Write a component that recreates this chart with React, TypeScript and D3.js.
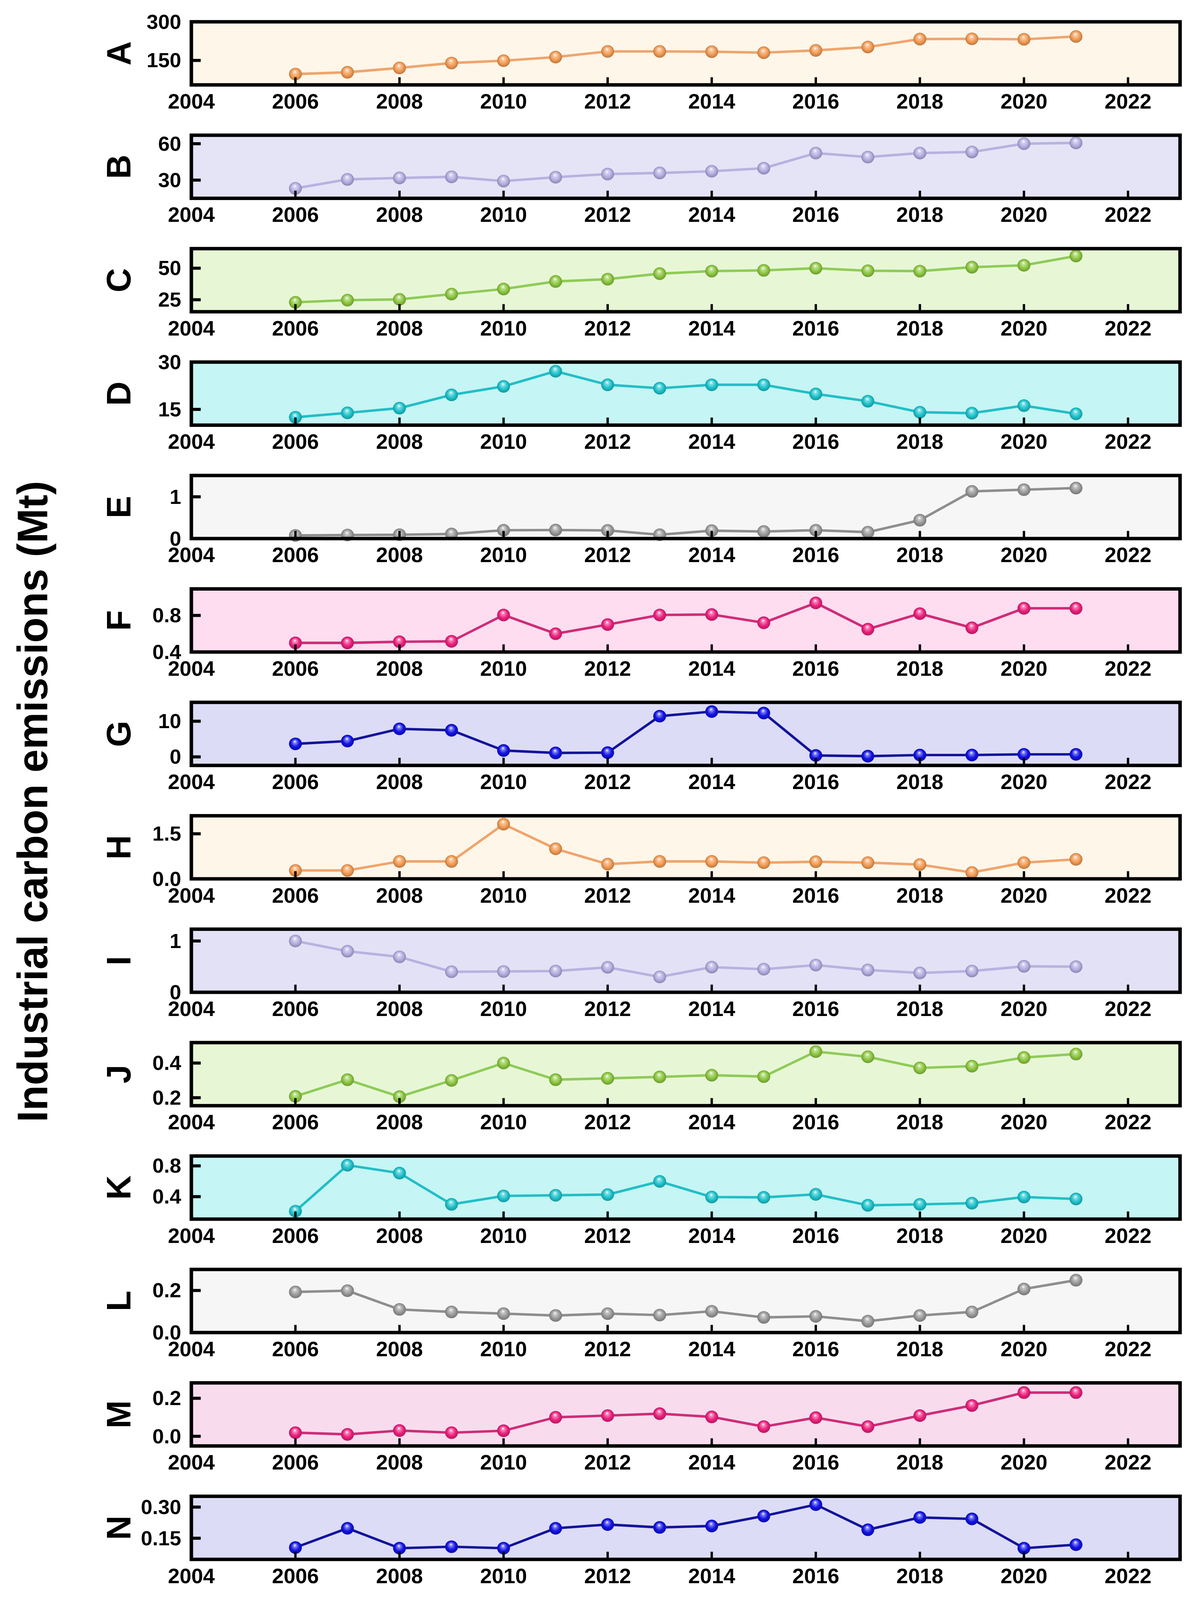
import * as d3 from 'd3';

// years on the x axis and tick labels
const YEARS = [2006, 2007, 2008, 2009, 2010, 2011, 2012, 2013, 2014, 2015, 2016, 2017, 2018, 2019, 2020, 2021];
const X_TICKS = [2004, 2006, 2008, 2010, 2012, 2014, 2016, 2018, 2020, 2022];
const PANEL_LABELS = ['A', 'B', 'C', 'D', 'E', 'F', 'G', 'H', 'I', 'J', 'K', 'L', 'M', 'N'];

// emissions per panel (Mt)
const SERIES_A = [97, 104, 121, 140, 149, 163, 185, 185, 184, 180, 189, 202, 233, 234, 232, 243];
const SERIES_B = [23.2, 30.6, 31.8, 32.7, 29.2, 32.4, 35, 35.9, 37.3, 39.8, 52.3, 49, 52.3, 53.2, 60, 60.7];
const SERIES_C = [23, 24.7, 25.3, 29.5, 33.5, 39.5, 41.3, 45.7, 47.7, 48.3, 50, 48, 47.7, 50.8, 52.3, 59.7];
const SERIES_D = [12.5, 13.9, 15.4, 19.6, 22.3, 27.1, 22.8, 21.7, 22.8, 22.8, 19.9, 17.6, 14.1, 13.8, 16.2, 13.6];
const SERIES_E = [0.075, 0.086, 0.092, 0.11, 0.2, 0.205, 0.195, 0.092, 0.19, 0.17, 0.2, 0.154, 0.44, 1.13, 1.17, 1.21];
const SERIES_F = [0.5, 0.5, 0.512, 0.517, 0.805, 0.6, 0.7, 0.805, 0.81, 0.72, 0.937, 0.65, 0.82, 0.665, 0.878, 0.878];
const SERIES_G = [3.65, 4.44, 7.86, 7.46, 1.79, 1.11, 1.19, 11.43, 12.7, 12.3, 0.4, 0.2, 0.52, 0.52, 0.71, 0.71];
const SERIES_H = [0.28, 0.28, 0.58, 0.58, 1.82, 1.0, 0.49, 0.58, 0.58, 0.54, 0.57, 0.54, 0.475, 0.21, 0.54, 0.65];
const SERIES_I = [1.0, 0.8, 0.69, 0.4, 0.405, 0.414, 0.486, 0.3, 0.49, 0.45, 0.53, 0.434, 0.377, 0.414, 0.506, 0.5];
const SERIES_J = [0.208, 0.304, 0.206, 0.3, 0.4, 0.304, 0.312, 0.32, 0.33, 0.322, 0.466, 0.436, 0.372, 0.382, 0.432, 0.452];
const SERIES_K = [0.211, 0.809, 0.706, 0.3, 0.409, 0.418, 0.427, 0.598, 0.395, 0.391, 0.43, 0.288, 0.3, 0.315, 0.395, 0.37];
const SERIES_L = [0.193, 0.199, 0.11, 0.098, 0.09, 0.081, 0.09, 0.083, 0.101, 0.072, 0.077, 0.054, 0.081, 0.098, 0.207, 0.249];
const SERIES_M = [0.019, 0.01, 0.03, 0.019, 0.029, 0.1, 0.109, 0.119, 0.102, 0.051, 0.098, 0.051, 0.109, 0.162, 0.23, 0.23];
const SERIES_N = [0.105, 0.198, 0.102, 0.109, 0.102, 0.198, 0.216, 0.202, 0.209, 0.257, 0.312, 0.191, 0.25, 0.243, 0.102, 0.119];

const SERIES = [
  SERIES_A, SERIES_B, SERIES_C, SERIES_D, SERIES_E, SERIES_F, SERIES_G,
  SERIES_H, SERIES_I, SERIES_J, SERIES_K, SERIES_L, SERIES_M, SERIES_N,
];

// y axis range and ticks per panel
const Y_DOMAINS = [
  [55, 300], [15, 67], [15.5, 65.5], [10, 30], [0, 1.51], [0.4, 1.09], [-2.4, 15.3],
  [0, 2.1], [0, 1.23], [0.154, 0.518], [0.108, 0.928], [0, 0.3], [-0.051, 0.281], [0.048, 0.352],
];
const Y_TICKS = [
  [150, 300], [30, 60], [25, 50], [15, 30], [0, 1], [0.4, 0.8], [0, 10],
  [0, 1.5], [0, 1], [0.2, 0.4], [0.4, 0.8], [0, 0.2], [0, 0.2], [0.15, 0.3],
];
const Y_FORMATS = ['d', 'd', 'd', 'd', 'd', '.1f', 'd', '.1f', 'd', '.1f', '.1f', '.1f', '.1f', '.2f'];

const THEMES = [
  { line: '#F0A46C', dot: '#F39A52' },
  { line: '#B6B2DF', dot: '#B2ADE0' },
  { line: '#8FCB57', dot: '#8CC63F' },
  { line: '#22BEC6', dot: '#1CC2CB' },
  { line: '#8E8E8E', dot: '#999999' },
  { line: '#CF2C78', dot: '#EC1F7C' },
  { line: '#13139A', dot: '#1111E4' },
];
const PANEL_BG = [
  '#FEF6E9', '#E5E3F6', '#E7F7D6', '#C5F5F5', '#F6F6F6', '#FDDDEF', '#DCDCF7',
  '#FEF6E9', '#E3E1F6', '#E7F7D6', '#C5F5F5', '#F6F6F6', '#F8DCEE', '#DCDCF7',
];

const W = 3050;
const H = 4184;
const LEFT = 490;
const RIGHT = 3022;
const TOP0 = 57;
const PITCH = 296.6;
const PANEL_H = 165;
const FONT = '"Liberation Sans", Arial, Helvetica, sans-serif';

const x = d3.scaleLinear().domain([2004, 2023]).range([LEFT, RIGHT]);

function Panel({ i }: { i: number }) {
  const top = TOP0 + i * PITCH;
  const bottom = top + PANEL_H;
  const theme = THEMES[i % 7];
  const y = d3.scaleLinear().domain(Y_DOMAINS[i]).range([bottom, top]);
  const fmt = d3.format(Y_FORMATS[i]);
  const values = SERIES[i];
  const line = d3
    .line<number>()
    .x((_, k) => x(YEARS[k]))
    .y((v) => y(v));
  const gradId = `ball-${i}`;
  const dark = d3.color(theme.dot)!.darker(0.9).formatHex();
  const light = d3.interpolateRgb(theme.dot, '#ffffff')(0.45);

  return (
    <g>
      <defs>
        <radialGradient id={gradId} cx="50%" cy="50%" r="55%" fx="45%" fy="30%">
          <stop offset="0%" stopColor="#ffffff" />
          <stop offset="22%" stopColor={light} />
          <stop offset="60%" stopColor={theme.dot} />
          <stop offset="100%" stopColor={dark} />
        </radialGradient>
      </defs>
      <rect x={LEFT} y={top} width={RIGHT - LEFT} height={PANEL_H} fill={PANEL_BG[i]} />
      <path d={line(values) ?? ''} fill="none" stroke={theme.line} strokeWidth={6.5} strokeLinejoin="round" />
      {values.map((v, k) => (
        <circle key={k} cx={x(YEARS[k])} cy={y(v)} r={16.5} fill={`url(#${gradId})`} />
      ))}
      {/* inward ticks */}
      {X_TICKS.slice(1).map((t) => (
        <line key={t} x1={x(t)} x2={x(t)} y1={bottom} y2={bottom - 20} stroke="#000" strokeWidth={6} />
      ))}
      {Y_TICKS[i].map((t) => (
        <line key={t} x1={LEFT} x2={LEFT + 24} y1={y(t)} y2={y(t)} stroke="#000" strokeWidth={8} />
      ))}
      <rect x={LEFT} y={top} width={RIGHT - LEFT} height={PANEL_H} fill="none" stroke="#000" strokeWidth={9} />
      {/* tick labels */}
      {X_TICKS.map((t) => (
        <text key={t} x={x(t)} y={bottom + 62} textAnchor="middle" fontSize={54} fontWeight="bold" fontFamily={FONT}>
          {t}
        </text>
      ))}
      {Y_TICKS[i].map((t) => (
        <text
          key={t}
          x={464}
          y={y(t)}
          textAnchor="end"
          dominantBaseline="central"
          fontSize={53}
          fontWeight="bold"
          fontFamily={FONT}
        >
          {fmt(t)}
        </text>
      ))}
      <text
        transform={`translate(334,${(top + bottom) / 2}) rotate(-90)`}
        textAnchor="middle"
        fontSize={88}
        fontWeight="bold"
        fontFamily={FONT}
      >
        {PANEL_LABELS[i]}
      </text>
    </g>
  );
}

export default function App() {
  // fit the figure to the visible height so the bottom axis labels stay in view
  const viewH = typeof window !== 'undefined' && window.innerHeight > 0 ? Math.min(window.innerHeight, H) : H;
  return (
    <svg
      width={W}
      height={viewH}
      viewBox={`0 0 ${W} ${H}`}
      preserveAspectRatio="none"
      style={{ position: 'absolute', left: 0, top: 0, background: '#fff' }}
    >
      {PANEL_LABELS.map((_, i) => (
        <Panel key={i} i={i} />
      ))}
      <text
        transform="translate(121,2096) rotate(-90)"
        textAnchor="middle"
        fontSize={109}
        fontWeight="bold"
        fontFamily={FONT}
      >
        Industrial carbon emissions (Mt)
      </text>
    </svg>
  );
}
